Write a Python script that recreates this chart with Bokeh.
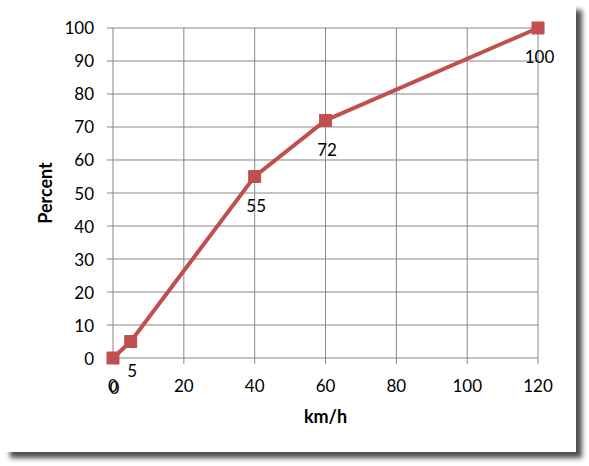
import math
from bokeh.plotting import figure
from bokeh.models import Range1d, ColumnDataSource, LabelSet, Label
from bokeh.core.properties import value
from bokeh.embed import file_html
from bokeh.resources import INLINE

speed = [0, 5, 40, 60, 120]
percent = [0, 5, 55, 72, 100]
labels = ["0", "5", "55", "72", "100"]
x_ticks = [0, 20, 40, 60, 80, 100, 120]
y_ticks = [0, 10, 20, 30, 40, 50, 60, 70, 80, 90, 100]
x_min, x_max = 0, 120
y_min, y_max = 0, 100

FONT = "Lato"
GRID = "#878787"
RED = "#C0504D"

# canvas 572x448, frame fills the whole canvas; data <-> pixel scale set by ranges
p = figure(width=572, height=448, output_backend="svg", toolbar_location=None,
           x_range=Range1d(-30.632, 130.858), y_range=Range1d(-28.636, 107.121),
           x_axis_type=None, y_axis_type=None,
           min_border_left=0, min_border_right=0, min_border_top=0, min_border_bottom=0)
p.styles = {"margin-left": "4px", "margin-top": "4px",
            "box-shadow": "6px 6px 5px rgba(0,0,0,0.7)"}
p.outline_line_color = None
p.grid.visible = False
p.background_fill_color = "white"
p.border_fill_color = "white"

# grid lines
gx = ColumnDataSource(dict(x=x_ticks, y0=[y_min] * len(x_ticks), y1=[y_max] * len(x_ticks),
                           t=[str(v) for v in x_ticks]))
gy = ColumnDataSource(dict(y=y_ticks, x0=[x_min] * len(y_ticks), x1=[x_max] * len(y_ticks),
                           t=[str(v) for v in y_ticks]))
p.segment(x0="x", y0="y0", x1="x", y1="y1", source=gx, line_color=GRID, line_width=1)
p.segment(x0="x0", y0="y", x1="x1", y1="y", source=gy, line_color=GRID, line_width=1)
# tick marks
p.ray(x="x", y="y0", length=6, angle=-math.pi / 2, length_units="screen",
      source=gx, line_color=GRID, line_width=1)
p.ray(x="x0", y="y", length=6, angle=math.pi, length_units="screen",
      source=gy, line_color=GRID, line_width=1)

# tick labels
p.add_layout(LabelSet(x="x", y="y0", text="t", source=gx, y_offset=-27.5, text_align="center",
                      text_baseline="middle", text_font=value(FONT), text_font_size="17px",
                      text_color="black"))
p.add_layout(LabelSet(x="x0", y="y", text="t", source=gy, x_offset=-19, text_align="right",
                      text_baseline="middle", text_font=value(FONT), text_font_size="17px",
                      text_color="black"))

# series
src = ColumnDataSource(dict(x=speed, y=percent, t=labels))
p.line("x", "y", source=src, line_color=RED, line_width=4)
p.scatter("x", "y", source=src, marker="square", size=12, fill_color=RED, line_color=RED)
p.add_layout(LabelSet(x="x", y="y", text="t", source=src, y_offset=-29, x_offset=1.5,
                      text_align="center", text_baseline="middle", text_font=value(FONT),
                      text_font_size="17px", text_color="black"))

# axis titles
p.add_layout(Label(x=(x_min + x_max) / 2, y=y_min, y_offset=-58, text="km/h",
                   text_align="center", text_baseline="middle", text_font=FONT,
                   text_font_size="18px", text_font_style="bold", text_color="black"))
p.add_layout(Label(x=x_min, y=(y_min + y_max) / 2, x_offset=-68, text="Percent",
                   angle=math.pi / 2, text_align="center", text_baseline="middle",
                   text_font=FONT, text_font_size="18px", text_font_style="bold",
                   text_color="black"))

open("out.html", "w").write(file_html(p, INLINE))
